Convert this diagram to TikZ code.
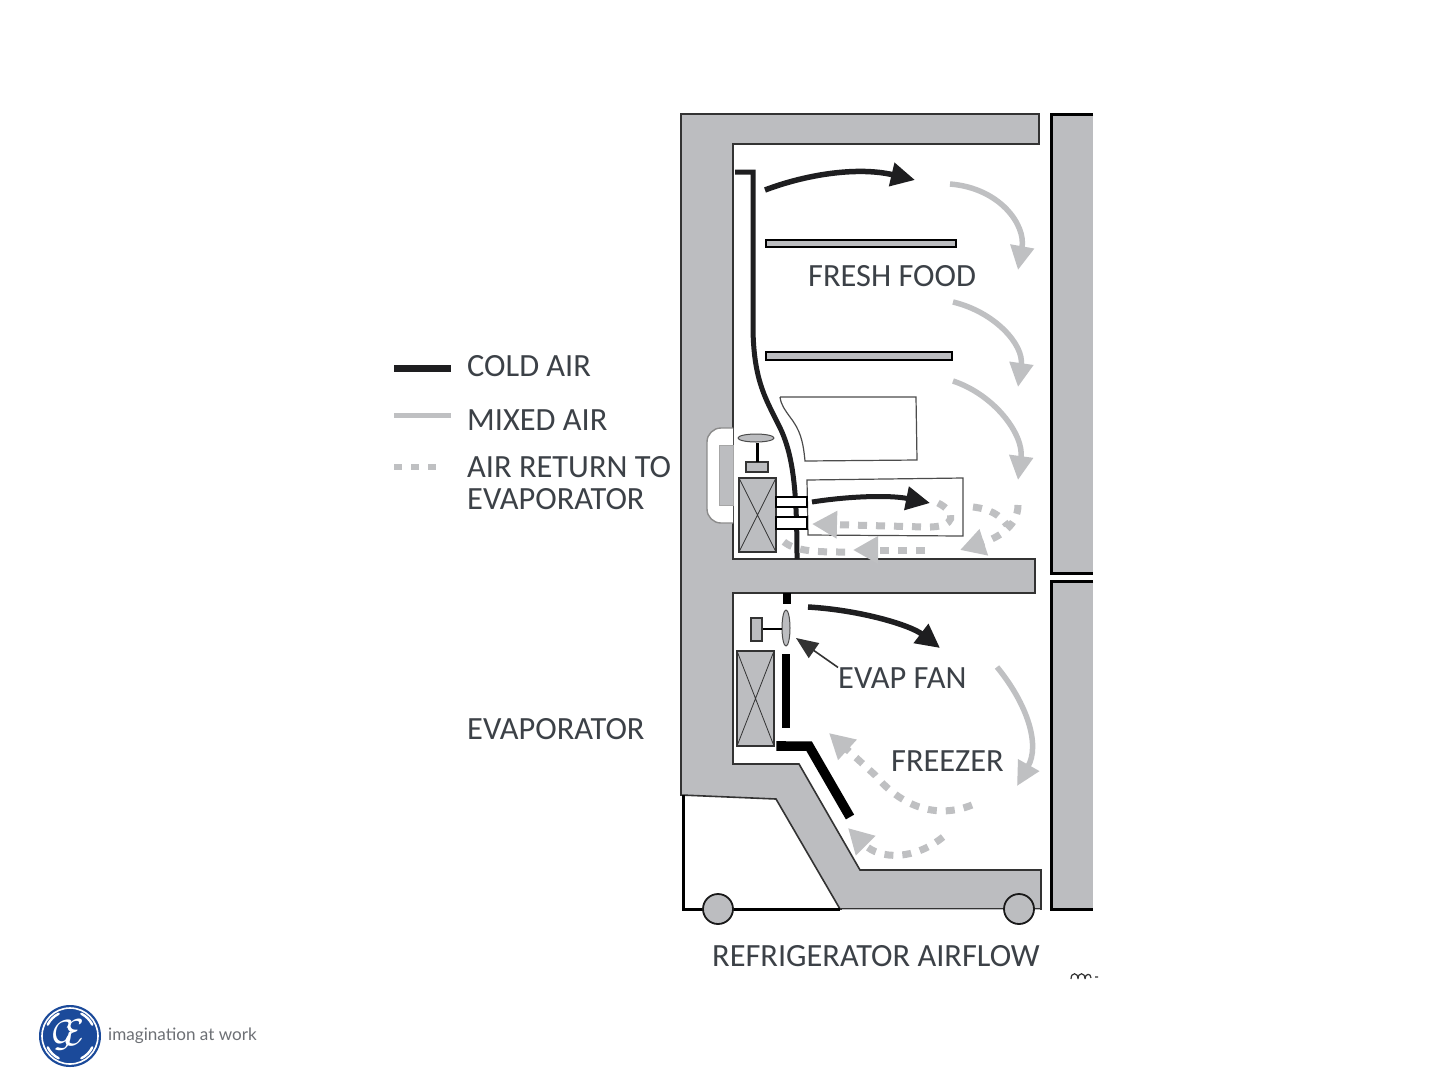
\documentclass[tikz,border=0pt]{standalone}
\usepackage{fontspec}
\setmainfont{Carlito}
\newfontfamily\logofont{Lato}
\usetikzlibrary{arrows.meta}
\definecolor{wallgray}{HTML}{BCBDC0}
\definecolor{airgray}{HTML}{BFC0C2}
\definecolor{inkdark}{HTML}{1E1E20}
\definecolor{labelink}{HTML}{3C4147}
\definecolor{geblue}{HTML}{1B4A9A}
\tikzset{
  wall/.style={fill=wallgray,draw=black!80,line width=1.6pt,line join=miter},
  label/.style={text=labelink,font=\fontsize{32.4}{32.4}\selectfont,inner sep=0pt,anchor=west},
  coldair/.style={draw=inkdark,line width=5.5pt,-{Triangle[length=24pt,width=23pt]}},
  mixedair/.style={draw=airgray,line width=5.5pt,-{Triangle[length=24pt,width=23pt]}},
  returnair/.style={draw=airgray,line width=7pt,dash pattern=on 9pt off 9pt,-{Triangle[length=25pt,width=26pt]}},
  returntail/.style={draw=airgray,line width=7pt,dash pattern=on 9pt off 9pt},
  thinbox/.style={draw=black!70,line width=1.2pt,fill=white},
  evapbox/.style={fill=wallgray,draw=black!80,line width=1.3pt},
  duct/.style={draw=black,line width=8pt},
  vent/.style={draw=black,line width=1.8pt,fill=white},
}
\begin{document}
\begin{tikzpicture}[x=1pt,y=-1pt]
\useasboundingbox (0,0) rectangle (1440,1080);
\fill[white] (0,0) rectangle (1440,1080);

% cabinet wall
\draw[wall] (681,114) -- (1039,114) -- (1039,144) -- (733,144) -- (733,559) -- (1035,559) -- (1035,593) -- (733,593) -- (733,764) -- (799,764) -- (860,870) -- (1041,870) -- (1041,909) -- (840,909) -- (776,799) -- (681,795) -- cycle;
% base
\draw[black,line width=3pt] (683,795) -- (683,909) -- (840,909);
\draw[wallgray,line width=1pt] (842,909) -- (1040,909);
% doors
\fill[wallgray] (1051,114) rectangle (1093,573);
\draw[black,line width=3pt] (1093,114) -- (1051,114) -- (1051,573) -- (1093,573);
\fill[wallgray] (1051,581) rectangle (1093,909);
\draw[black,line width=3pt] (1093,581) -- (1051,581) -- (1051,909) -- (1093,909);
% wheels
\node[circle,fill=wallgray,draw=black!90,line width=1.8pt,minimum size=30pt,inner sep=0pt] (wheelA) at (718,909) {};
\node[circle,fill=wallgray,draw=black!90,line width=1.8pt,minimum size=30pt,inner sep=0pt] (wheelB) at (1019,909) {};

% handle at evaporator
\draw[draw=black!45,line width=1.4pt,fill=white,rounded corners=14pt] (733,428) -- (707,428) -- (707,523) -- (733,523);
\fill[wallgray,draw=black!35,line width=.8pt] (719,445) rectangle (733,505);

% shelves
\draw[fill=wallgray,draw=black,line width=2.2pt] (766,240) rectangle (956,247);
\draw[fill=wallgray,draw=black,line width=2.2pt] (766,352) rectangle (952,360);

% upper drawer
\draw[thinbox] (780,397) -- (916,397) -- (917,460) -- (805,461) .. controls (803,440) and (800,430) .. (790,417) .. controls (785,410) and (781,405) .. (780,397);
% lower drawer
\draw[thinbox] (807,480) -- (963,478) -- (963,536) -- (808,535) -- cycle;

% cold air duct
\draw[draw=inkdark,line width=5pt,line join=miter] (735,172) -- (753,172) -- (753,330) .. controls (754,385) and (768,402) .. (782,432) .. controls (793,458) and (797,490) .. (797,559);

% upper evaporator and fan
\draw[evapbox] (739,478) rectangle (776,552);
\draw[black!80,line width=.8pt] (739,478) -- (776,552) (776,478) -- (739,552);
\draw[evapbox] (746,462) rectangle (768,472);
\draw[black,line width=3pt] (757,443) -- (757,462);
\draw[fill=wallgray,draw=black!70,line width=1pt] (756,438) ellipse [x radius=18pt,y radius=4pt];
% vents
\draw[vent] (776,497) rectangle (807,507);
\draw[vent] (776,517) rectangle (807,529);

% fresh food air
\draw[coldair] (765,190) .. controls (810,173) and (860,167) .. (915,180);
\draw[mixedair] (950,184) .. controls (1000,188) and (1026,225) .. (1018,270);
\draw[mixedair] (953,302) .. controls (995,312) and (1024,345) .. (1018,387);
\draw[mixedair] (953,381) .. controls (995,395) and (1024,435) .. (1018,480);
\draw[coldair,line width=5pt] (812,502) .. controls (850,496) and (890,495) .. (930,503);
\draw[returnair] (938,503) .. controls (956,512) and (958,528) .. (925,527) -- (812,524);
\draw[returntail] (973,507) .. controls (990,509) and (1000,515) .. (1007,525);
\draw[returnair] (1018,505) .. controls (1018,525) and (1000,537) .. (960,550);
\draw[returnair] (925,550) -- (853,550);
\draw[returntail] (845,552) .. controls (820,552) and (795,552) .. (783,541);

% freezer
\draw[duct] (786.5,593) -- (786.5,604);
\draw[duct] (786,654) -- (786,728);
\draw[duct,line width=9.5pt,line join=miter] (781,741) -- (781,746) -- (809,746) -- (850,817);
\draw[fill=wallgray,draw=black!70,line width=1pt] (786,628) ellipse [x radius=4pt,y radius=18pt];
\draw[black,line width=2pt] (762,629) -- (782,629);
\draw[evapbox] (751,618) rectangle (762,641);
\draw[evapbox] (737,651) rectangle (774,746);
\draw[black!80,line width=.8pt] (737,651) -- (774,746) (774,651) -- (737,746);

\draw[coldair] (808,607) .. controls (860,610) and (910,625) .. (940,648);
\draw[mixedair] (997,667) .. controls (1028,705) and (1040,745) .. (1017,786);
\draw[returnair] (972,805) .. controls (935,820) and (900,805) .. (875,775) -- (829,733);
\draw[returnair] (943,837) .. controls (915,860) and (880,860) .. (848,828);

% labels
\node[label] (freshfood) at (808,276) {FRESH FOOD};
\node[label] (evapfan) at (838,678) {EVAP FAN};
\node[label] (freezer) at (891,761) {FREEZER};
\node[label] (coldlabel) at (467,366) {COLD AIR};
\node[label] (mixedlabel) at (467,420) {MIXED AIR};
\node[label] (returnlabel) at (467,467) {AIR RETURN TO};
\node[label] (evaplabelA) at (467,499) {EVAPORATOR};
\node[label] (evaplabelB) at (467,729) {EVAPORATOR};
\node[label] (title) at (712,956) {REFRIGERATOR AIRFLOW};
\coordinate (fanpoint) at (796,638);
\draw[black!80,line width=1.6pt,-{Triangle[length=22pt,width=18pt]}] (evapfan.north west) -- (fanpoint);

% legend samples
\coordinate (lgA) at (394,368); \coordinate (lgB) at (451,368);
\draw[draw=inkdark,line width=7pt] (lgA) -- (lgB);
\coordinate (lgC) at (394,415); \coordinate (lgD) at (451,415);
\draw[draw=airgray,line width=5pt] (lgC) -- (lgD);
\coordinate (lgE) at (394,467); \coordinate (lgF) at (442,467);
\draw[draw=airgray,line width=6pt,dash pattern=on 8pt off 9pt] (lgE) -- (lgF);

% stray marks
\draw[black!80,line width=1.2pt] (1071,979) .. controls (1071,972) and (1078,972) .. (1078,979) (1078,979) .. controls (1078,972) and (1085,972) .. (1085,979) (1085,979) .. controls (1085,973) and (1091,973) .. (1091,978) (1095,977) -- (1098,977);

% logo
\fill[geblue] (70,1036) circle (31pt);
\draw[white,line width=1.6pt] (70,1036) circle (28pt);
\foreach \ang in {45,135,225,315}{
  \draw[white,line width=2.4pt,line cap=round] (70,1036) ++(\ang-18:25pt) arc[start angle=\ang-18,end angle=\ang+18,radius=25pt];
}
\node[text=white,inner sep=0pt,scale=3.6,rotate=8] (gemark) at (69,1035) {$\mathcal{G}\!\!\mathcal{E}$};
\node[text=labelink!75,inner sep=0pt,anchor=west,font=\logofont\fontsize{17.1}{17.1}\selectfont] (tagline) at (108,1036) {imagination at work};
\end{tikzpicture}
\end{document}
